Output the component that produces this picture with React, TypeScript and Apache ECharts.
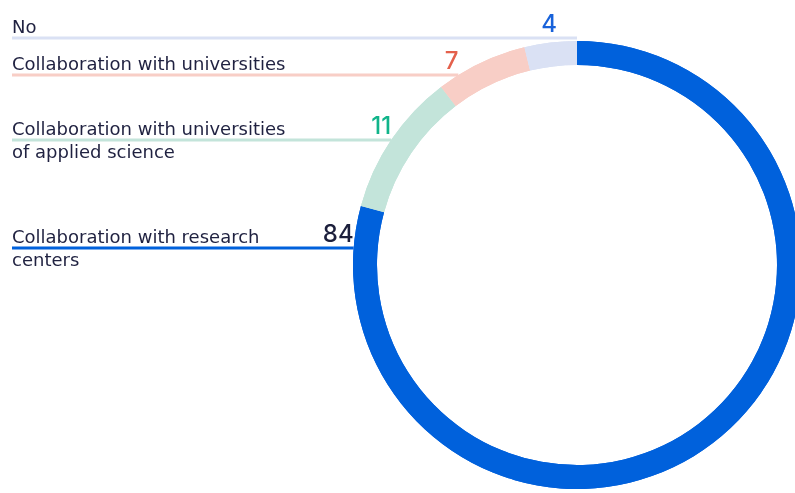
import React, { useEffect, useRef } from 'react';
import * as echarts from 'echarts';

// ---- data ----
const categories = [
  'Collaboration with research centers',
  'Collaboration with universities of applied science',
  'Collaboration with universities',
  'No',
];
const values = [84, 11, 7, 4];

// ---- styles / layout ----
const sliceColors = ['#0061dc', '#c3e4da', '#f8cec6', '#dae1f4'];
const valueColors = ['#1c1f3c', '#10b48a', '#e4604b', '#1862da'];
const labelLineY = [248, 140, 75, 38];

const W = 795;
const H = 493;
const CX = 577;
const CY = 265;
const R_OUT = 224;
const R_IN = 200;
const LABEL_X = 12;
const LINE_H = 23;
const NAME_FONT = 'DejaVu Sans';
const VALUE_FONT = 'Inter';

function edgeX(y: number): number {
  const dy = CY - y;
  if (Math.abs(dy) >= R_OUT) return CX;
  return CX - Math.sqrt(R_OUT * R_OUT - dy * dy);
}

export default function App() {
  const ref = useRef<HTMLDivElement>(null);
  useEffect(() => {
    if (!ref.current) return;
    const chart = echarts.init(ref.current, null, { renderer: 'svg' });
    const ringData = categories.map((name, i) => ({
      name,
      value: values[i],
      itemStyle: { color: sliceColors[i] },
    }));
    const valueData = categories.map((name, i) => ({
      name,
      value: values[i],
      itemStyle: { color: sliceColors[i] },
      label: { color: valueColors[i] },
    }));
    chart.setOption({
      animation: false,
      series: [
        {
          type: 'pie',
          center: [CX, CY],
          radius: [R_IN, R_OUT],
          startAngle: 90,
          clockwise: true,
          avoidLabelOverlap: false,
          silent: true,
          emphasis: { disabled: true },
          data: ringData,
          label: {
            show: true,
            position: 'outside',
            formatter: '{b}',
            color: '#1f2140',
            fontFamily: NAME_FONT,
            fontSize: 18,
            lineHeight: LINE_H,
            width: 295,
            overflow: 'break',
          },
          labelLine: {
            show: true,
            length: 0,
            length2: 0,
            smooth: false,
            lineStyle: { width: 3 },
          },
          labelLayout: (p: any) => {
            const y = labelLineY[p.dataIndex];
            const ex = edgeX(y);
            return {
              x: LABEL_X,
              y: y - LINE_H,
              align: 'left',
              verticalAlign: 'top',
              labelLinePoints: [
                [LABEL_X, y],
                [ex, y],
                [ex, y],
              ],
            };
          },
        },
        {
          type: 'pie',
          center: [CX, CY],
          radius: [R_IN, R_OUT],
          startAngle: 90,
          clockwise: true,
          avoidLabelOverlap: false,
          silent: true,
          emphasis: { disabled: true },
          data: valueData,
          label: {
            show: true,
            position: 'outside',
            formatter: '{c}',
            fontFamily: VALUE_FONT,
            fontSize: 24,
            fontWeight: 500,
            lineHeight: 24,
          },
          labelLine: { show: false },
          labelLayout: (p: any) => {
            const y = labelLineY[p.dataIndex];
            const ex = Math.min(edgeX(y), CX - 20);
            return {
              x: ex,
              y: y - 3,
              align: 'right',
              verticalAlign: 'bottom',
            };
          },
        },
      ],
    });
    return () => chart.dispose();
  }, []);
  return (
    <div
      ref={ref}
      style={{ position: 'fixed', left: 0, top: 0, width: W, height: H }}
    />
  );
}
